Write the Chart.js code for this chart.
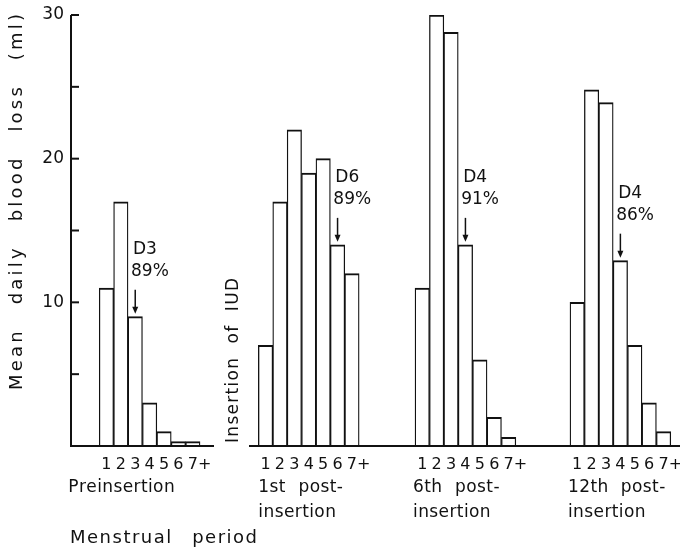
<!DOCTYPE html>
<html>
<head>
<meta charset="utf-8">
<script src="https://cdn.jsdelivr.net/npm/chart.js@4.4.0/dist/chart.umd.min.js"></script>
<style>
  html, body { margin: 0; padding: 0; background: #fff; }
  #wrap { width: 680px; height: 547px; }
</style>
</head>
<body>
<div id="wrap"><canvas id="chart"></canvas></div>
<script>
// Days of the menstrual period
const dayLabels = ['1', '2', '3', '4', '5', '6', '7+'];
const groupLabels = [['Preinsertion'], ['1st post-', 'insertion'], ['6th post-', 'insertion'], ['12th post-', 'insertion']];

// Mean daily blood loss (ml) for each day
const preinsertion = [11, 17, 9, 3, 1, 0.3, 0.3];
const post1st = [7, 17, 22, 19, 20, 14, 12];
const post6th = [11, 30, 28.8, 14, 6, 2, 0.6];
const post12th = [10, 24.8, 23.9, 12.9, 7, 3, 1];

// Day marked with arrow and share of total loss by that day
const markDay = [3, 6, 4, 4];
const markPct = ['89%', '89%', '91%', '86%'];

const yTicks = [10, 20, 30];

// Layout (x in bar widths from the y axis)
const groupStart = [2.03, 13.08, 23.96, 34.72];
const X_MAX = 42.36;
const baselineSegs = [[0, 10.0], [12.43, X_MAX]];
const groupLabelDx = [-31, 0, -2, -2];
const FONT = '"DejaVu Sans", sans-serif';
const INK = '#111';

const series = [preinsertion, post1st, post6th, post12th];

function line(ctx, x1, y1, x2, y2) {
    ctx.beginPath();
    ctx.moveTo(x1, y1);
    ctx.lineTo(x2, y2);
    ctx.stroke();
}

// Draw text with letter spacing ls, spaces widened so the whole fits width
function spacedText(ctx, str, x, y, width, ls) {
    let natural = 0, spaces = 0;
    for (const ch of str) {
        natural += ctx.measureText(ch).width + ls;
        if (ch === ' ') spaces++;
    }
    natural -= ls;
    const extra = spaces ? (width - natural) / spaces : 0;
    let cx = x;
    ctx.textAlign = 'left';
    for (const ch of str) {
        if (ch !== ' ') ctx.fillText(ch, cx, y);
        cx += ctx.measureText(ch).width + ls + (ch === ' ' ? extra : 0);
    }
}

const decor = {
    id: 'decor',
    afterDatasetsDraw(chart) {
        const { ctx, scales: { x, y } } = chart;
        const y0 = y.getPixelForValue(0);
        const ax = x.getPixelForValue(0) + 1;

        ctx.save();
        ctx.strokeStyle = INK;
        ctx.fillStyle = INK;
        ctx.lineWidth = 2;

        // y axis with inward ticks every 5
        line(ctx, ax, y0 + 1, ax, y.getPixelForValue(30));
        for (let v = 5; v <= 30; v += 5) {
            const py = y.getPixelForValue(v);
            line(ctx, ax, py, ax + 8, py);
        }

        // broken baseline
        baselineSegs.forEach(([a, b]) => line(ctx, x.getPixelForValue(a), y0, x.getPixelForValue(b), y0));

        // y tick labels
        ctx.font = '17px ' + FONT;
        ctx.textBaseline = 'middle';
        ctx.textAlign = 'right';
        yTicks.forEach(v => ctx.fillText(String(v), ax - 7, y.getPixelForValue(v)));

        // day labels and group labels
        groupStart.forEach((s, g) => {
            ctx.font = '16px ' + FONT;
            ctx.textAlign = 'left';
            dayLabels.forEach((lab, i) => {
                const cx = x.getPixelForValue(s + i + 0.5);
                const w = ctx.measureText(lab[0]).width;
                ctx.fillText(lab, cx - w / 2, y0 + 19);
            });
            ctx.font = '17px ' + FONT;
            const lx = x.getPixelForValue(s) + groupLabelDx[g];
            groupLabels[g].forEach((txt, k) => {
                const w = ctx.measureText(txt).width;
                spacedText(ctx, txt, lx, y0 + 42 + k * 25, w + 10, 0.4);
            });

            // marked day: label, percentage, arrow
            const idx = markDay[g] - 1;
            const top = y.getPixelForValue(series[g][idx]);
            const left = x.getPixelForValue(s + idx);
            const cx = x.getPixelForValue(s + idx + 0.5);
            ctx.textAlign = 'left';
            ctx.fillText('D' + markDay[g], left + 5, top - 67);
            ctx.fillText(markPct[g], left + 3, top - 45);
            ctx.lineWidth = 1.5;
            line(ctx, cx, top - 27, cx, top - 8);
            ctx.beginPath();
            ctx.moveTo(cx - 3, top - 10);
            ctx.lineTo(cx + 3, top - 10);
            ctx.lineTo(cx, top - 3);
            ctx.closePath();
            ctx.fill();
            ctx.lineWidth = 2;
        });

        // axis titles
        ctx.font = '18px ' + FONT;
        ctx.textBaseline = 'middle';
        spacedText(ctx, 'Menstrual period', 70, y0 + 92, 187, 1.5);

        ctx.save();
        ctx.translate(17, 390);
        ctx.rotate(-Math.PI / 2);
        spacedText(ctx, 'Mean daily blood loss (ml)', 0, 0, 376, 3.2);
        ctx.restore();

        ctx.font = '17px ' + FONT;
        ctx.save();
        ctx.translate(234, 443);
        ctx.rotate(-Math.PI / 2);
        spacedText(ctx, 'Insertion of IUD', 0, 0, 165, 1.3);
        ctx.restore();

        ctx.restore();
    }
};

const datasets = series.map((vals, g) => ({
    data: vals.map((v, i) => ({ x: groupStart[g] + i + 0.5, y: v })),
    backgroundColor: '#fff',
    borderColor: INK,
    borderWidth: { top: 2, left: 1.3, right: 1.3, bottom: 0 },
    borderSkipped: 'bottom',
    barPercentage: 1,
    categoryPercentage: 1,
    grouped: false
}));

new Chart(document.getElementById('chart').getContext('2d'), {
    type: 'bar',
    data: { datasets },
    options: {
        responsive: true,
        maintainAspectRatio: false,
        animation: false,
        layout: { padding: { left: 70, top: 15, right: 0, bottom: 101 } },
        scales: {
            x: { type: 'linear', min: 0, max: X_MAX, offset: false, display: false },
            y: { min: 0, max: 30, display: false }
        },
        plugins: {
            legend: { display: false },
            tooltip: { enabled: false }
        }
    },
    plugins: [decor]
});
</script>
</body>
</html>
